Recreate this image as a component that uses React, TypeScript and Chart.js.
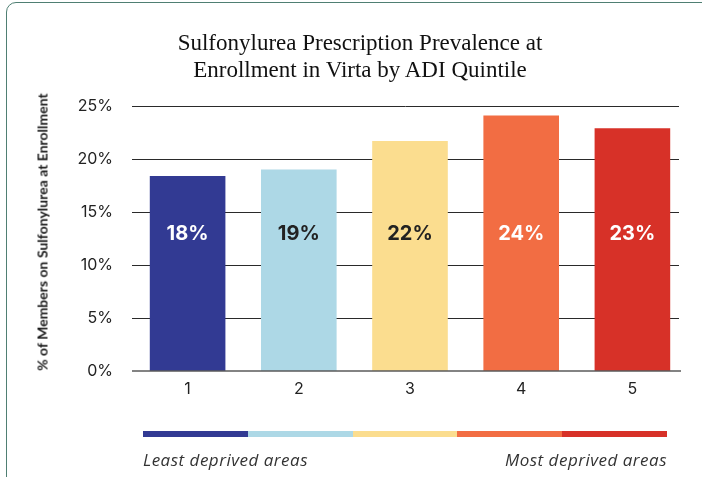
import React, { useEffect, useRef } from "react";
import { Chart, registerables } from "chart.js";

Chart.register(...registerables);

const categories = ["1", "2", "3", "4", "5"];
const values = [18.4, 19.0, 21.7, 24.1, 22.9];
const valueLabels = ["18%", "19%", "22%", "24%", "23%"];
const barColors = ["#323a93", "#add8e6", "#fbdd8f", "#f26d43", "#d73128"];
const labelColors = ["#ffffff", "#222222", "#222222", "#ffffff", "#ffffff"];
const yMin = 0;
const yMax = 25;
const yStep = 5;
const titleLines = ["Sulfonylurea Prescription Prevalence at", "Enrollment in Virta by ADI Quintile"];
const yAxisTitle = "% of Members on Sulfonylurea at Enrollment";
const legendLeft = "Least deprived areas";
const legendRight = "Most deprived areas";
const LABEL_VALUE = 12.9;
const GRID_RIGHT_INSET = 9;
const AXIS_RIGHT_INSET = 7;

const gridPlugin = {
  id: "customGrid",
  beforeDatasetsDraw(chart: any) {
    const ctx = chart.ctx;
    const ys = chart.scales.y;
    const area = chart.chartArea;
    ctx.save();
    ctx.strokeStyle = "#2a2a2a";
    ctx.lineWidth = 1;
    ys.ticks.forEach((t: any) => {
      if (t.value === yMin) return;
      const y = Math.round(ys.getPixelForValue(t.value)) + 0.5;
      ctx.beginPath();
      ctx.moveTo(area.left, y);
      ctx.lineTo(area.right - GRID_RIGHT_INSET, y);
      ctx.stroke();
    });
    ctx.restore();
  },
  afterDatasetsDraw(chart: any) {
    const ctx = chart.ctx;
    const ys = chart.scales.y;
    const area = chart.chartArea;
    const y = Math.round(ys.getPixelForValue(yMin));
    ctx.save();
    ctx.strokeStyle = "rgba(90,90,90,0.75)";
    ctx.lineWidth = 2;
    ctx.beginPath();
    ctx.moveTo(area.left, y);
    ctx.lineTo(area.right - AXIS_RIGHT_INSET, y);
    ctx.stroke();
    ctx.restore();
  },
};

const barLabelPlugin = {
  id: "barLabels",
  afterDatasetsDraw(chart: any) {
    const ctx = chart.ctx;
    const meta = chart.getDatasetMeta(0);
    const y = chart.scales.y.getPixelForValue(LABEL_VALUE);
    ctx.save();
    ctx.font = "bold 20px Inter";
    ctx.textAlign = "center";
    ctx.textBaseline = "middle";
    meta.data.forEach((bar: any, i: number) => {
      ctx.fillStyle = labelColors[i];
      ctx.fillText(valueLabels[i], bar.x, y);
    });
    ctx.restore();
  },
};

export default function App() {
  const ref = useRef<HTMLCanvasElement>(null);

  useEffect(() => {
    if (!ref.current) return;
    const chart = new Chart(ref.current, {
      type: "bar",
      data: {
        labels: categories,
        datasets: [
          {
            data: values,
            backgroundColor: barColors,
            borderWidth: 0,
            categoryPercentage: 1,
            barPercentage: 0.68,
          },
        ],
      },
      options: {
        responsive: false,
        animation: false,
        devicePixelRatio: 1,
        layout: { padding: { top: 106, left: 0, right: 14, bottom: 0 } },
        plugins: {
          legend: { display: false },
          title: { display: false },
          tooltip: { enabled: false },
        },
        scales: {
          x: {
            grid: { display: false, drawTicks: false },
            border: { display: false },
            ticks: { color: "#222", font: { family: "Inter", size: 16 }, padding: 9 },
            afterFit: (s: any) => {
              s.height = 106;
            },
          },
          y: {
            min: yMin,
            max: yMax,
            grid: { display: false, drawTicks: false },
            border: { display: false },
            ticks: {
              stepSize: yStep,
              padding: 19,
              color: "#222",
              font: { family: "Inter", size: 16 },
              callback: (v: any) => v + "%",
            },
            afterFit: (s: any) => {
              s.width = 132;
            },
          },
        },
      },
      plugins: [gridPlugin, barLabelPlugin],
    });
    return () => chart.destroy();
  }, []);

  return (
    <div
      style={{
        position: "absolute",
        left: 0,
        top: 0,
        width: 702,
        height: 477,
        overflow: "hidden",
        background: "#fff",
      }}
    >
      <div
        style={{
          position: "absolute",
          left: 6,
          top: 2,
          width: 740,
          height: 520,
          border: "1.5px solid #4f7f73",
          borderRadius: 10,
          boxSizing: "border-box",
        }}
      />
      <canvas ref={ref} width={702} height={477} style={{ position: "absolute", left: 0, top: 0, width: 702, height: 477 }} />
      <div
        style={{
          position: "absolute",
          left: 110,
          top: 29,
          width: 500,
          textAlign: "center",
          fontFamily: "'Liberation Serif', serif",
          fontSize: 23,
          lineHeight: "27px",
          color: "#111",
        }}
      >
        {titleLines.map((t, i) => (
          <div key={i}>{t}</div>
        ))}
      </div>
      <div
        style={{
          position: "absolute",
          left: 42,
          top: 232,
          transform: "translate(-50%, -50%) rotate(-90deg)",
          whiteSpace: "nowrap",
          fontFamily: "Lato",
          fontWeight: 700,
          fontSize: 14,
          color: "#1a1a1a",
        }}
      >
        {yAxisTitle}
      </div>
      <div style={{ position: "absolute", left: 143, top: 431, width: 524, height: 6, display: "flex" }}>
        {barColors.map((c, i) => (
          <div key={i} style={{ flex: 1, background: c }} />
        ))}
      </div>
      <div
        style={{
          position: "absolute",
          left: 143,
          top: 449,
          width: 524,
          display: "flex",
          justifyContent: "space-between",
          fontFamily: "'Open Sans'",
          fontStyle: "italic",
          fontSize: 17,
          letterSpacing: 0.5,
          lineHeight: "22px",
          color: "#333",
        }}
      >
        <span>{legendLeft}</span>
        <span>{legendRight}</span>
      </div>
    </div>
  );
}
